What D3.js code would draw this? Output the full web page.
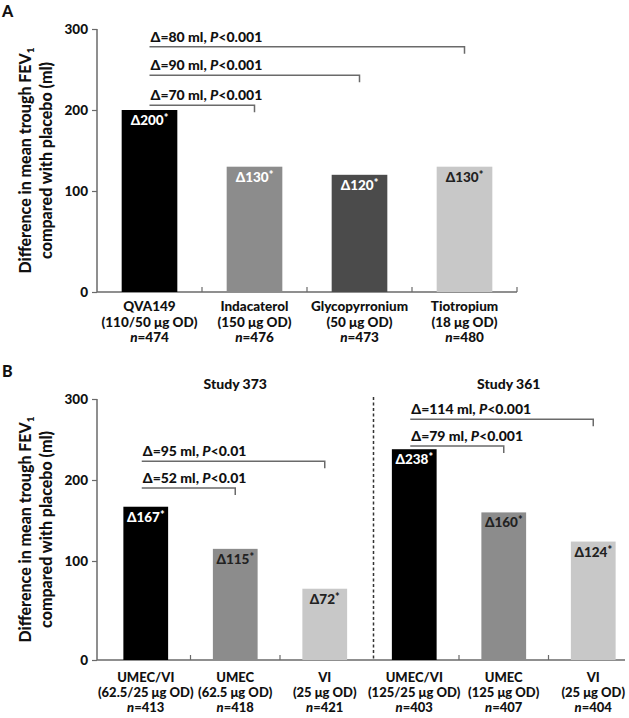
<!DOCTYPE html>
<html><head><meta charset="utf-8">
<script src="https://cdn.jsdelivr.net/npm/d3@7"></script>
<style>
body{margin:0;background:#fff}
svg text{font-family:Lato,"Open Sans",sans-serif;font-weight:900;fill:#111}
</style>
</head><body>
<svg id="chart" width="629" height="718"></svg>
<script>
// ---------- data ----------
const aKeys = ["QVA149","Indacaterol","Glycopyrronium","Tiotropium"];
const aNames = ["QVA149","Indacaterol","Glycopyrronium","Tiotropium"];
const aDoses = ["(110/50 μg OD)","(150 μg OD)","(50 μg OD)","(18 μg OD)"];
const aN = ["474","476","473","480"];
const aValues = [200,130,120,130];
const aComparisons = [
  {from:"QVA149", to:"Tiotropium", delta:80, p:"<0.001"},
  {from:"QVA149", to:"Glycopyrronium", delta:90, p:"<0.001"},
  {from:"QVA149", to:"Indacaterol", delta:70, p:"<0.001"}
];

const bStudies = ["Study 373","Study 361"];
const bKeys = ["373-UMEC/VI","373-UMEC","373-VI","361-UMEC/VI","361-UMEC","361-VI"];
const bNames = ["UMEC/VI","UMEC","VI","UMEC/VI","UMEC","VI"];
const bDoses = ["(62.5/25 μg OD)","(62.5 μg OD)","(25 μg OD)","(125/25 μg OD)","(125 μg OD)","(25 μg OD)"];
const bN = ["413","418","421","403","407","404"];
const bValues = [167,115,72,238,160,124];
const bComparisons = [
  {from:"373-UMEC/VI", to:"373-VI", delta:95, p:"<0.01"},
  {from:"373-UMEC/VI", to:"373-UMEC", delta:52, p:"<0.01"},
  {from:"361-UMEC/VI", to:"361-VI", delta:114, p:"<0.001"},
  {from:"361-UMEC/VI", to:"361-UMEC", delta:79, p:"<0.001"}
];

const yTicks = [0,100,200,300];

// ---------- styles / layout ----------
const aColors = ["#000000","#8c8c8c","#4b4b4b","#c8c8c8"];
const aLabelColors = ["#ffffff","#ffffff","#ffffff","#222222"];
const bColors = ["#000000","#8c8c8c","#c8c8c8","#000000","#8c8c8c","#c8c8c8"];
const bLabelColors = ["#ffffff","#222222","#222222","#ffffff","#222222","#222222"];
const aBracketLevels = [278,243,206];
const bBracketLevels = [223,190,275,242];

const svg = d3.select("#chart");
const axisColor = "#6a6a6a";

function drawPanel(cfg){
  const g = svg.append("g");
  const y = d3.scaleLinear().domain([0,100,300]).range([cfg.base, cfg.base - cfg.firstSeg, cfg.top]);
  const x = d3.scaleBand().domain(cfg.keys).range(cfg.xRange).paddingInner(cfg.padIn).paddingOuter(cfg.padIn/2);

  // y axis
  const ya = g.append("g").attr("transform",`translate(${cfg.axisX},0)`)
    .call(d3.axisLeft(y).tickValues(yTicks).tickSize(5).tickPadding(4).tickFormat(d3.format("d")));
  ya.select(".domain").attr("stroke",axisColor).attr("stroke-width",1.5).attr("d",`M0,${cfg.top}V${cfg.base}`);
  ya.selectAll(".tick line").attr("stroke",axisColor).attr("stroke-width",1.2);
  ya.selectAll(".tick text").style("font-size","13.5px").style("font-family","Lato, sans-serif").style("font-weight","900").attr("fill","#111");

  // x baseline + ticks at band boundaries
  g.append("line").attr("x1",cfg.axisX).attr("x2",cfg.xEnd).attr("y1",y(0)).attr("y2",y(0))
    .attr("stroke",axisColor).attr("stroke-width",1.5);
  const step = x.step();
  const bounds = cfg.keys.slice(1).map(k => x(k) - x.paddingInner()*step/2)
    .filter((b,i)=> !cfg.dividerAfter || i+1 !== cfg.dividerAfter);
  if (cfg.endTick) bounds.push(cfg.xEnd);
  g.selectAll(".xt").data(bounds).join("line").attr("class","xt")
    .attr("x1",d=>d).attr("x2",d=>d).attr("y1",y(0)).attr("y2",y(0)-5)
    .attr("stroke",axisColor).attr("stroke-width",1.2);

  // divider
  if (cfg.dividerAfter){
    const dx = x(cfg.keys[cfg.dividerAfter]) - x.paddingInner()*step/2 + cfg.dividerShift;
    g.append("line").attr("x1",dx).attr("x2",dx).attr("y1",cfg.top-2).attr("y2",y(0))
      .attr("stroke","#333").attr("stroke-width",1.5).attr("stroke-dasharray","3,2.5");
  }

  // bars
  g.selectAll(".bar").data(cfg.values).join("rect").attr("class","bar")
    .attr("x",(d,i)=>x(cfg.keys[i])).attr("width",x.bandwidth())
    .attr("y",d=>y(d)).attr("height",d=>y(0)-y(d))
    .attr("fill",(d,i)=>cfg.colors[i]);

  // bar labels
  const bl = g.selectAll(".bl").data(cfg.values).join("text").attr("class","bl")
    .attr("x",(d,i)=>x(cfg.keys[i])+x.bandwidth()/2).attr("y",d=>y(d)+cfg.labelOffset)
    .attr("text-anchor","middle").style("font-size","13.5px");
  bl.each(function(d,i){
    const t = d3.select(this);
    t.append("tspan").text("Δ"+d).style("fill",cfg.labelColors[i]);
    t.append("tspan").text("*").attr("dy",-3).style("font-size","11px").style("fill",cfg.labelColors[i]);
  });

  // category labels (one text per line)
  cfg.keys.forEach((k,i)=>{
    const cx = x(k)+x.bandwidth()/2;
    const y0 = y(0)+cfg.catOffset;
    g.append("text").attr("x",cx).attr("y",y0).attr("text-anchor","middle").style("font-size",cfg.catSize).text(cfg.names[i]);
    g.append("text").attr("x",cx).attr("y",y0+cfg.catGap).attr("text-anchor","middle").style("font-size",cfg.catSize).text(cfg.doses[i]);
    const t3 = g.append("text").attr("x",cx).attr("y",y0+2*cfg.catGap).attr("text-anchor","middle").style("font-size",cfg.catSize);
    t3.append("tspan").style("font-style","italic").text("n");
    t3.append("tspan").text("="+cfg.ns[i]);
  });

  // comparison brackets
  cfg.comparisons.forEach((c,i)=>{
    const x1 = x(c.from)+x.bandwidth()/2 + cfg.bracketStartShift;
    const x2 = x(c.to)+x.bandwidth()/2;
    const yy = y(cfg.levels[i]);
    g.append("path").attr("d",`M${x1},${yy}H${x2}V${yy+7}`)
      .attr("fill","none").attr("stroke",axisColor).attr("stroke-width",1.5);
    const t = g.append("text").attr("x",x1+1).attr("y",yy-5).style("font-size","14px");
    t.append("tspan").text(`Δ=${c.delta} ml, `);
    t.append("tspan").style("font-style","italic").text("P");
    t.append("tspan").text(c.p);
  });

  // y title
  const yc = (cfg.top + cfg.base)/2;
  const yt = g.append("text").attr("transform",`translate(${cfg.titleX},${yc}) rotate(-90)`)
    .attr("text-anchor","middle").style("font-size","16px");
  yt.append("tspan").attr("x",0).text("Difference in mean trough FEV");
  yt.append("tspan").text("1").attr("dy",3).style("font-size","10px");
  yt.append("tspan").attr("x",0).attr("dy",18).text("compared with placebo (ml)");

  // panel letter
  g.append("text").attr("x",2).attr("y",cfg.letterY).text(cfg.letter).style("font-size","16px");

  // study titles
  if (cfg.studies){
    const groups = [cfg.keys.slice(0,3), cfg.keys.slice(3)];
    groups.forEach((gk,j)=>{
      const cx = (x(gk[0]) + x(gk[2]) + x.bandwidth())/2 + cfg.studyShift[j];
      g.append("text").attr("x",cx).attr("y",cfg.studyY).attr("text-anchor","middle")
        .style("font-size","14px").text(cfg.studies[j]);
    });
  }
}

drawPanel({
  letter:"A", letterY:17, keys:aKeys, names:aNames, doses:aDoses, ns:aN, values:aValues,
  colors:aColors, labelColors:aLabelColors, comparisons:aComparisons, levels:aBracketLevels,
  base:292, firstSeg:101, top:29, axisX:97, xRange:[97,517], xEnd:517, endTick:true,
  padIn:0.47, labelOffset:15, catOffset:19, catGap:15.5, catSize:"13.5px", titleX:31, bracketStartShift:0
});

drawPanel({
  letter:"B", letterY:377, keys:bKeys, names:bNames, doses:bDoses, ns:bN, values:bValues,
  colors:bColors, labelColors:bLabelColors, comparisons:bComparisons, levels:bBracketLevels,
  base:660, firstSeg:99, top:399, axisX:97, xRange:[101,638], xEnd:625, endTick:false,
  padIn:0.5, labelOffset:15, catOffset:22, catGap:15, catSize:"13px", titleX:31, bracketStartShift:-4,
  dividerAfter:3, dividerShift:4, studies:bStudies, studyY:389, studyShift:[0,5]
});
</script>
</body></html>
